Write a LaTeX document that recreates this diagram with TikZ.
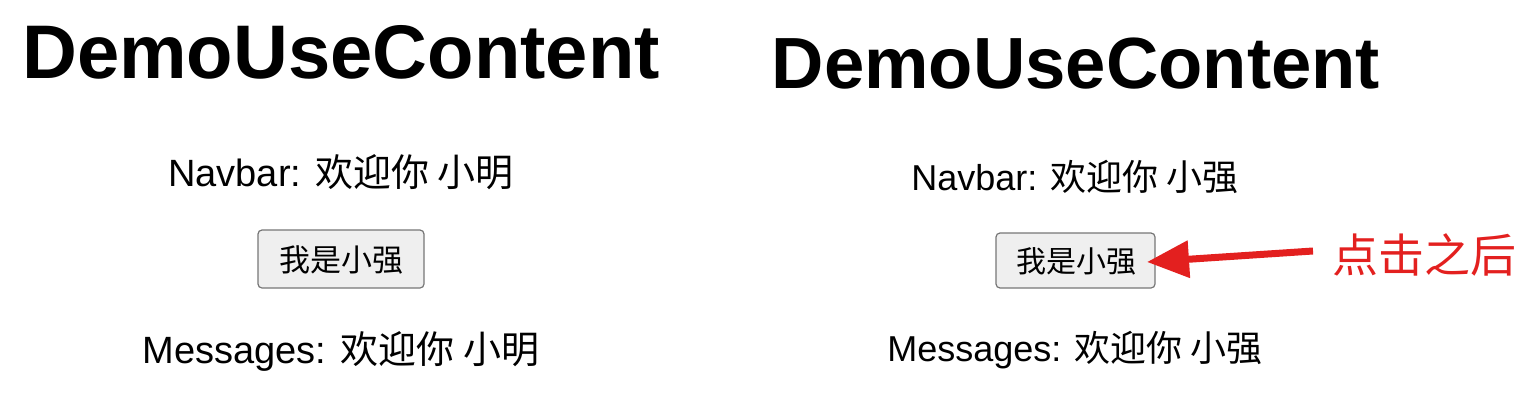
\documentclass[tikz,border=0pt]{standalone}
\usepackage{fontspec}
\setmainfont{Liberation Sans}
\newfontfamily\cjk{Noto Sans CJK SC}
\usetikzlibrary{arrows.meta}
\definecolor{arrowred}{HTML}{E3201F}
\definecolor{btnfill}{HTML}{EFEFEF}
\definecolor{btndraw}{HTML}{767676}
\tikzset{
  title/.style={inner sep=0pt, anchor=base, font=\bfseries\fontsize{#1}{#1}\selectfont},
  line/.style={inner sep=0pt, anchor=base, font=\fontsize{#1}{#1}\selectfont},
  btn/.style={draw=btndraw, fill=btnfill, rounded corners=4pt, line width=1.2pt},
  btntext/.style={inner sep=0pt, font=\cjk\fontsize{#1}{#1}\selectfont},
  redarrow/.style={draw=arrowred, line width=7pt, -{Triangle[length=42pt,width=36pt]}, shorten >=0pt},
  note/.style={inner sep=0pt, text=arrowred, font=\cjk\fontsize{46}{46}\selectfont}
}
\begin{document}
\begin{tikzpicture}[x=1pt,y=-1pt]
\useasboundingbox (0,0) rectangle (1536,416);
% left panel
\node[title=76] (t1) at (341,78) {DemoUseContent};
\node[line=38] (n1) at (341,186) {Navbar: {\cjk 欢迎你 小明}};
\draw[btn] (258,230) rectangle (424,288);
\node[btntext=31] (b1) at (341,260) {我是小强};
\node[line=38] (m1) at (341,363) {Messages: {\cjk 欢迎你 小明}};
% right panel
\node[title=72.5] (t2) at (1076,88) {DemoUseContent};
\node[line=36] (n2) at (1075,190) {Navbar: {\cjk 欢迎你 小强}};
\draw[btn] (996,233) rectangle (1155,288);
\node[btntext=30] (b2) at (1076,261) {我是小强};
\coordinate (bt) at (1147,262);
\node[line=36] (m2) at (1075,361) {Messages: {\cjk 欢迎你 小强}};
\node[note] (lab) at (1424,255) {点击之后};
\coordinate (tail) at (1313,251);
\draw[redarrow] (tail) -- (bt);
\end{tikzpicture}
\end{document}
